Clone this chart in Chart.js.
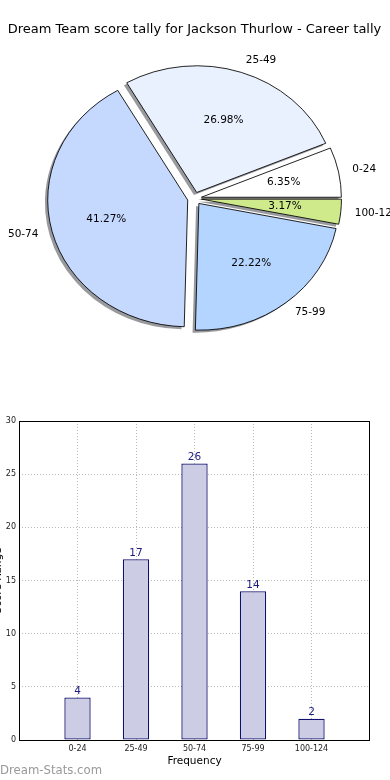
<!DOCTYPE html>
<html><head><meta charset="utf-8">
<script src="https://cdn.jsdelivr.net/npm/chart.js@4.4.1/dist/chart.umd.min.js"></script>
<style>
html,body{margin:0;padding:0;background:#fff;width:390px;height:780px;overflow:hidden;}
#pie{position:absolute;left:0;top:0;}
#bar{position:absolute;left:0;top:400px;}
#wm{position:absolute;left:0;top:763px;font-family:'DejaVu Sans';font-size:11.7px;line-height:14px;color:#999;white-space:nowrap;}
</style></head><body>
<canvas id="pie" width="390" height="400"></canvas>
<canvas id="bar" width="390" height="380"></canvas>
<div id="wm">Dream-Stats.com</div>
<script>
// ---- data ----
const chartTitle = 'Dream Team score tally for Jackson Thurlow - Career tally';
const categories = ['0-24', '25-49', '50-74', '75-99', '100-124'];
const tallies = [4, 17, 26, 14, 2];
const sliceColors = ['#ffffff', '#eaf1fe', '#c5d9ff', '#b4d5ff', '#cfea8b'];
const yTicks = [0, 5, 10, 15, 20, 25, 30];
const xAxisTitle = 'Frequency';
const yAxisTitle = 'Score Range';

// ---- style ----
const FONT = 'DejaVu Sans';
const R = 140, Y_SCALE = 0.905, EXPLODE = 7, SHX = -2.8, SHY = 2.8;
Chart.defaults.font.family = FONT;
Chart.defaults.color = '#000';

const total = tallies.reduce((a, b) => a + b, 0);
// matplotlib draws counter-clockwise from east; Chart.js clockwise -> reverse
const pieLabels = categories.slice().reverse();
const pieValues = tallies.slice().reverse();
const pieColors = sliceColors.slice().reverse();

const pieDraw = {
  id: 'pieDraw',
  beforeDatasetsDraw(chart) {
    const ctx = chart.ctx;
    const arcs = chart.getDatasetMeta(0).data;
    const cx = arcs[0].x, cy = arcs[0].y;
    ctx.save();
    ctx.translate(cx, cy); ctx.scale(1, Y_SCALE); ctx.translate(-cx, -cy);
    arcs.forEach(a => {
      const mid = (a.startAngle + a.endAngle) / 2;
      const x = a.x + Math.cos(mid) * EXPLODE + SHX, y = a.y + Math.sin(mid) * EXPLODE + SHY;
      ctx.beginPath(); ctx.moveTo(x, y);
      ctx.arc(x, y, a.outerRadius, a.startAngle, a.endAngle);
      ctx.closePath();
      ctx.fillStyle = 'rgba(90,92,98,0.62)';
      ctx.fill();
    });
    arcs.forEach(a => {
      const mid = (a.startAngle + a.endAngle) / 2;
      ctx.save();
      ctx.translate(Math.cos(mid) * EXPLODE, Math.sin(mid) * EXPLODE);
      a.draw(ctx);
      ctx.restore();
    });
    ctx.restore();
    ctx.save();
    ctx.fillStyle = '#000';
    ctx.font = '10.5px ' + FONT;
    ctx.textBaseline = 'middle';
    arcs.forEach((a, i) => {
      const mid = (a.startAngle + a.endAngle) / 2;
      const c = Math.cos(mid), s = Math.sin(mid);
      const lx = cx + c * (EXPLODE + 1.1 * a.outerRadius);
      const ly = cy + s * (EXPLODE + 1.1 * a.outerRadius) * Y_SCALE;
      ctx.textAlign = c > 0 ? 'left' : 'right';
      ctx.fillText(pieLabels[i], lx, ly);
      const px = cx + c * (EXPLODE + 0.6 * a.outerRadius);
      const py = cy + s * (EXPLODE + 0.6 * a.outerRadius) * Y_SCALE;
      ctx.textAlign = 'center';
      ctx.fillText((pieValues[i] / total * 100).toFixed(2) + '%', px, py);
    });
    ctx.restore();
    return false;
  }
};

new Chart(document.getElementById('pie'), {
  type: 'pie',
  data: {
    labels: pieLabels,
    datasets: [{ data: pieValues, backgroundColor: pieColors, borderColor: '#000', borderWidth: 0.9 }]
  },
  options: {
    responsive: false, animation: false, devicePixelRatio: 1, events: [],
    rotation: 90, radius: R,
    layout: { padding: { top: 0, left: 0, right: 1, bottom: 40.8 } },
    plugins: {
      legend: { display: false }, tooltip: { enabled: false },
      title: { display: true, text: chartTitle, color: '#000', font: { size: 13, weight: 'normal', family: FONT }, padding: { top: 22.2, bottom: 0 } }
    }
  },
  plugins: [pieDraw]
});

const barExtras = {
  id: 'barExtras',
  afterDatasetsDraw(chart) {
    const ctx = chart.ctx;
    const bars = chart.getDatasetMeta(0).data;
    ctx.save();
    ctx.fillStyle = '#1a1a80';
    ctx.font = '10.5px ' + FONT;
    ctx.textAlign = 'center';
    ctx.textBaseline = 'alphabetic';
    bars.forEach((b, i) => ctx.fillText(String(tallies[i]), b.x, b.y - 3.5));
    ctx.restore();
  },
  afterDraw(chart) {
    const { ctx, chartArea: a } = chart;
    ctx.save();
    ctx.strokeStyle = '#000'; ctx.lineWidth = 1;
    ctx.strokeRect(Math.round(a.left) + 0.5, Math.round(a.top) + 0.5, Math.round(a.right - a.left) - 1, Math.round(a.bottom - a.top));
    ctx.restore();
  }
};

new Chart(document.getElementById('bar'), {
  type: 'bar',
  data: {
    datasets: [{
      data: tallies.map((v, i) => ({ x: i, y: v })),
      backgroundColor: '#cccde4', borderColor: '#10106e', borderWidth: 1.3, borderSkipped: false,
      barPercentage: 0.45, categoryPercentage: 1
    }]
  },
  options: {
    responsive: false, animation: false, devicePixelRatio: 1, events: [],
    layout: { padding: { top: 21, right: 20, left: 0, bottom: 0 } },
    plugins: { legend: { display: false }, tooltip: { enabled: false } },
    scales: {
      x: {
        type: 'linear', min: -1, max: 5, z: 1, offset: false,
        afterBuildTicks: s => { s.ticks = categories.map((c, i) => ({ value: i })); },
        afterFit: s => { s.height = 40; },
        ticks: { callback: v => categories[v] ?? '', font: { size: 8 }, color: '#222', padding: 4, maxRotation: 0, autoSkip: false },
        grid: { color: '#b8b8b8', lineWidth: 1, drawTicks: false, offset: false },
        border: { display: false, dash: [1, 2] },
        title: { display: true, text: xAxisTitle, color: '#000', font: { size: 10.5 }, padding: { top: 0, bottom: 12.7 } }
      },
      y: {
        min: 0, max: 30, z: 1,
        afterBuildTicks: s => { s.ticks = yTicks.map(v => ({ value: v })); },
        afterFit: s => { s.width = 19; },
        ticks: { font: { size: 8 }, color: '#222', padding: 3 },
        grid: { color: '#b8b8b8', lineWidth: 1, drawTicks: false },
        border: { display: false, dash: [1, 2] },
        title: { display: true, text: yAxisTitle, color: '#000', font: { size: 10.5 }, padding: { top: -8.5, bottom: 0 } }
      }
    }
  },
  plugins: [barExtras]
});
</script>
</body></html>
